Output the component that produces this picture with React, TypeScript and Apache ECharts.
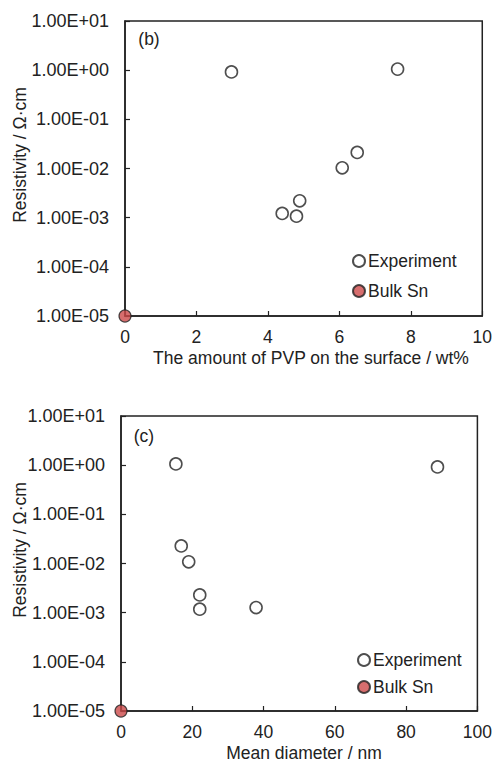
import React, { useEffect, useRef } from "react";
import * as echarts from "echarts";

// Panel (b): resistivity vs amount of PVP on surface
const pvpAmount = [2.98, 7.63, 6.5, 6.08, 4.89, 4.4, 4.8];
const pvpResistivity = [0.92, 1.05, 0.0212, 0.0103, 0.0022, 0.00122, 0.00107];
// Panel (c): resistivity vs mean diameter
const meanDiameter = [15.4, 16.9, 19.0, 22.1, 22.1, 37.9, 88.8];
const diamResistivity = [1.06, 0.0228, 0.0108, 0.0023, 0.00118, 0.00127, 0.92];
// Bulk Sn reference
const bulkX = [0];
const bulkResistivity = [1.0e-5];

const xTicksB = [0, 2, 4, 6, 8, 10];
const xTicksC = [0, 20, 40, 60, 80, 100];

const FONT = "'Liberation Sans', Arial, sans-serif";
const INK = "#222";
const RED = "#cd4a4a";

function sciLabel(v: number): string {
  const e = Math.round(Math.log10(v));
  const sign = e < 0 ? "-" : "+";
  const a = Math.abs(e);
  return "1.00E" + sign + (a < 10 ? "0" + a : String(a));
}

export default function App() {
  const ref = useRef<HTMLDivElement>(null);
  useEffect(() => {
    document.body.style.margin = "0";
    if (!ref.current) return;
    const chart = echarts.init(ref.current, undefined, { renderer: "svg" });
    const grids = [
      { left: 125, top: 21, width: 358, height: 295 },
      { left: 121, top: 416, width: 358, height: 295 },
    ];
    const xAxis = [xTicksB, xTicksC].map((t, i) => ({
      type: "value",
      gridIndex: i,
      min: t[0],
      max: t[t.length - 1],
      interval: t[1] - t[0],
      axisLine: { show: true, onZero: false, lineStyle: { color: INK, width: 1.5 } },
      axisTick: { show: true, inside: true, length: 5, lineStyle: { color: INK, width: 1.2 } },
      axisLabel: { fontSize: 17.5, color: INK, fontFamily: FONT, margin: 12 },
      splitLine: { show: false },
    }));
    const yAxis = [0, 1].map((i) => ({
      type: "log",
      gridIndex: i,
      logBase: 10,
      min: 1e-5,
      max: 10,
      interval: 1,
      axisLine: { show: true, onZero: false, lineStyle: { color: INK, width: 1.5 } },
      axisTick: { show: true, inside: true, length: 5, lineStyle: { color: INK, width: 1.2 } },
      axisLabel: { fontSize: 18, color: INK, fontFamily: FONT, margin: 16, formatter: sciLabel },
      splitLine: { show: false },
      minorTick: { show: false },
    }));
    const expStyle = { color: "#fff", borderColor: INK, borderWidth: 1.6 };
    const bulkStyle = { color: RED, borderColor: INK, borderWidth: 1.2 };
    const series: any[] = [
      {
        name: "Experiment",
        type: "scatter",
        xAxisIndex: 0,
        yAxisIndex: 0,
        symbol: "circle",
        symbolSize: 12,
        itemStyle: expStyle,
        data: pvpAmount.map((x, k) => [x, pvpResistivity[k]]),
        clip: false,
      },
      {
        name: "Bulk Sn",
        type: "scatter",
        xAxisIndex: 0,
        yAxisIndex: 0,
        symbol: "circle",
        symbolSize: 12,
        itemStyle: bulkStyle,
        data: bulkX.map((x, k) => [x, bulkResistivity[k]]),
        clip: false,
        z: 5,
      },
      {
        name: "Experiment",
        type: "scatter",
        xAxisIndex: 1,
        yAxisIndex: 1,
        symbol: "circle",
        symbolSize: 12,
        itemStyle: expStyle,
        data: meanDiameter.map((x, k) => [x, diamResistivity[k]]),
        clip: false,
      },
      {
        name: "Bulk Sn",
        type: "scatter",
        xAxisIndex: 1,
        yAxisIndex: 1,
        symbol: "circle",
        symbolSize: 12,
        itemStyle: bulkStyle,
        data: bulkX.map((x, k) => [x, bulkResistivity[k]]),
        clip: false,
        z: 5,
      },
    ];
    const legendBase = {
      orient: "vertical",
      icon: "circle",
      itemWidth: 12,
      itemHeight: 12,
      itemGap: 12,
      selectedMode: false,
      textStyle: { fontSize: 17.5, color: INK, fontFamily: FONT, padding: [0, 0, 0, -2] },
      data: ["Experiment", "Bulk Sn"],
      padding: 0,
    };
    const titleText = (x: number, y: number, text: string, extra: any = {}) => ({
      type: "text",
      x,
      y,
      ...extra,
      style: {
        text,
        fill: INK,
        fontSize: 17.5,
        fontFamily: FONT,
        textAlign: "center",
        textVerticalAlign: "middle",
        ...(extra.style || {}),
      },
    });
    chart.setOption({
      animation: false,
      backgroundColor: "#fff",
      grid: grids.map((g) => ({
        ...g,
        show: true,
        borderColor: INK,
        borderWidth: 1.5,
        backgroundColor: "transparent",
      })),
      xAxis,
      yAxis,
      series,
      legend: [
        { ...legendBase, left: 352, top: 252 },
        { ...legendBase, left: 357, top: 651, itemGap: 9 },
      ],
      graphic: [
        titleText(149, 39, "(b)"),
        titleText(144, 436, "(c)"),
        titleText(311, 358, "The amount of PVP on the surface / wt%"),
        titleText(304, 753, "Mean diameter / nm"),
        titleText(20, 155, "Resistivity / Ω·cm", { rotation: Math.PI / 2 }),
        titleText(20, 550, "Resistivity / Ω·cm", { rotation: Math.PI / 2 }),
      ],
    });
    return () => chart.dispose();
  }, []);
  return <div ref={ref} style={{ width: 495, height: 765 }} />;
}
